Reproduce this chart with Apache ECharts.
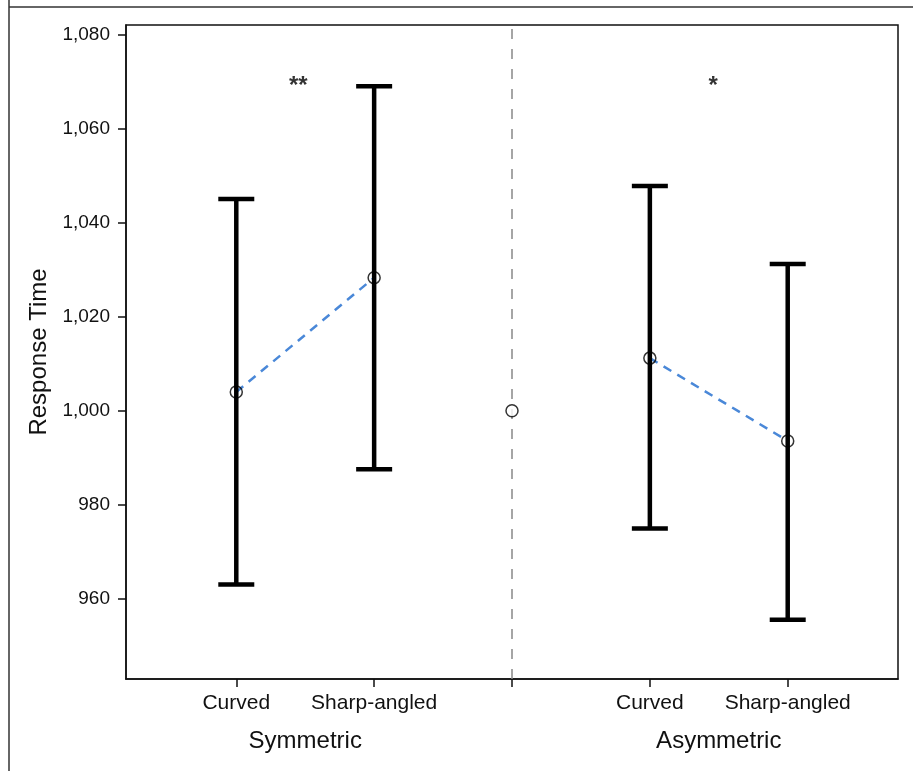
<!DOCTYPE html>
<html>
<head>
<meta charset="utf-8">
<script src="https://cdn.jsdelivr.net/npm/echarts@6/dist/echarts.min.js"></script>
<style>html,body{margin:0;padding:0;background:#fff}#c{width:913px;height:771px}</style>
</head>
<body>
<div id="c"></div>
<script>
const categories = ['Curved', 'Sharp-angled', 'Curved', 'Sharp-angled'];
const positions = [1, 2, 4, 5];
const groups = ['Symmetric', 'Asymmetric'];
const groupPositions = [1.5, 4.5];
const means = [1004, 1028.3, 1011.2, 993.6];
const lower = [963.1, 987.6, 975, 955.6];
const upper = [1045, 1069, 1047.8, 1031.2];
const yTicks = [960, 980, 1000, 1020, 1040, 1060, 1080];
const refPoint = [3, 1000];
const stars = ['**', '*'];
const starX = [1.45, 4.46];
const starY = 1069;

const FONT = 'Liberation Sans, Arial, Helvetica, sans-serif';
const yMin = 943, yMax = 1082;

const chart = echarts.init(document.getElementById('c'), null, {renderer: 'canvas'});

const errData = positions.map((p, i) => [p, lower[i], upper[i]]);
const meanData = positions.map((p, i) => [p, means[i]]);

const option = {
  animation: false,
  backgroundColor: '#fff',
  graphic: [
    {type: 'line', shape: {x1: 9, y1: 0, x2: 9, y2: 771}, style: {stroke: '#333', lineWidth: 1.5}},
    {type: 'line', shape: {x1: 9, y1: 7, x2: 913, y2: 7}, style: {stroke: '#333', lineWidth: 1.5}}
  ],
  grid: {left: 126, right: 15, top: 25, bottom: 92, show: true, borderColor: '#111', borderWidth: 1.5, backgroundColor: 'transparent'},
  xAxis: [
    {
      type: 'value', min: 0.2, max: 5.8,
      axisLine: {show: true, lineStyle: {color: '#111', width: 1.5}},
      splitLine: {show: false},
      axisTick: {show: true, length: 8, lineStyle: {color: '#111', width: 1.5}, customValues: [1, 2, 3, 4, 5]},
      axisLabel: {
        customValues: positions, margin: 14, color: '#111', fontFamily: FONT, fontSize: 21,
        formatter: v => { const i = positions.indexOf(v); return i >= 0 ? categories[i] : ''; }
      }
    },
    {
      type: 'value', min: 0.2, max: 5.8, position: 'bottom',
      axisLine: {show: false}, axisTick: {show: false}, splitLine: {show: false},
      axisLabel: {
        customValues: groupPositions, margin: 50, color: '#111', fontFamily: FONT, fontSize: 24,
        formatter: v => { const i = groupPositions.indexOf(v); return i >= 0 ? groups[i] : ''; }
      }
    }
  ],
  yAxis: {
    type: 'value', min: yMin, max: yMax,
    name: 'Response Time', nameLocation: 'middle', nameGap: 70,
    nameTextStyle: {color: '#111', fontFamily: FONT, fontSize: 24},
    axisLine: {show: true, lineStyle: {color: '#111', width: 1.5}},
    splitLine: {show: false},
    axisTick: {show: true, length: 8, lineStyle: {color: '#111', width: 1.5}, customValues: yTicks},
    axisLabel: {
      customValues: yTicks, margin: 16, color: '#111', fontFamily: FONT, fontSize: 19,
      formatter: v => v.toLocaleString('en-US')
    }
  },
  series: [
    {
      type: 'line', data: [[refPoint[0], yMin], [refPoint[0], yMax]], symbol: 'none', z: 1,
      lineStyle: {color: '#888', width: 1.5, type: [10, 10]}
    },
    {
      type: 'line', data: meanData.slice(0, 2), symbol: 'none', z: 2,
      lineStyle: {color: '#4a88d8', width: 2.5, type: [9, 7]}
    },
    {
      type: 'line', data: meanData.slice(2, 4), symbol: 'none', z: 2,
      lineStyle: {color: '#4a88d8', width: 2.5, type: [9, 7]}
    },
    {
      type: 'custom', data: errData, z: 3,
      renderItem: (params, api) => {
        const x = api.value(0);
        const lo = api.coord([x, api.value(1)]);
        const hi = api.coord([x, api.value(2)]);
        const hw = 18;
        const st = {stroke: '#000', lineWidth: 4.5};
        return {type: 'group', children: [
          {type: 'line', shape: {x1: lo[0], y1: lo[1], x2: hi[0], y2: hi[1]}, style: st},
          {type: 'line', shape: {x1: lo[0] - hw, y1: lo[1], x2: lo[0] + hw, y2: lo[1]}, style: st},
          {type: 'line', shape: {x1: hi[0] - hw, y1: hi[1], x2: hi[0] + hw, y2: hi[1]}, style: st}
        ]};
      }
    },
    {
      type: 'scatter', data: meanData, symbol: 'circle', symbolSize: 12, z: 4,
      itemStyle: {color: 'rgba(255,255,255,0)', borderColor: '#000', borderWidth: 1.5}
    },
    {
      type: 'scatter', data: [refPoint], symbol: 'circle', symbolSize: 12, z: 4,
      itemStyle: {color: '#fff', borderColor: '#000', borderWidth: 1.5}
    },
    {
      type: 'scatter', data: starX.map((x, i) => [x, starY, stars[i]]), symbolSize: 0, z: 5,
      label: {show: true, position: 'inside', formatter: p => p.data[2], color: '#000', fontFamily: FONT, fontSize: 24, fontWeight: 'bold'}
    }
  ]
};
chart.setOption(option);
</script>
</body>
</html>
